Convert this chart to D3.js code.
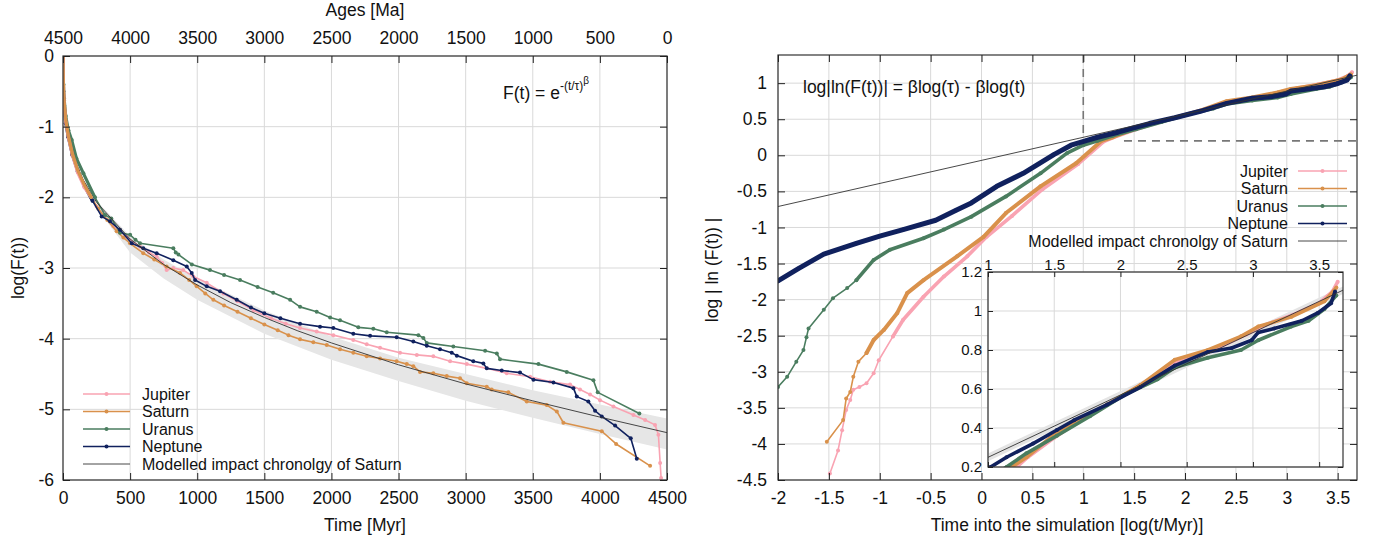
<!DOCTYPE html>
<html lang="en">
<head>
<meta charset="UTF-8">
<title>Impact chronology of the giant planets</title>
<script src="https://cdn.jsdelivr.net/npm/d3@7"></script>
<style>
  body { margin: 0; background: #fff; }
  svg text { font-family: 'Liberation Sans', Arial, sans-serif; fill: #111; }
</style>
</head>
<body>
<div id="grafica"></div>
<script>
// ---------- left panel : log F(t) against time [Myr] ----------
const timeTicks = [0, 500, 1000, 1500, 2000, 2500, 3000, 3500, 4000, 4500]
const ageTicks  = [4500, 4000, 3500, 3000, 2500, 2000, 1500, 1000, 500, 0]
const logFTicks = [0, -1, -2, -3, -4, -5, -6]

const jupiterL = [[0,0],[3,-0.45],[8,-0.66],[20,-0.92],[40,-1.15],[70,-1.4],[110,-1.65],[160,-1.86],[210,-2.0],[251,-2.13],[310,-2.27],[375,-2.41],[474,-2.56],[574,-2.7],[640,-2.78],[698,-2.84],[740,-2.93],[772,-3.03],[822,-3.0],[896,-3.03],[971,-3.12],[1071,-3.21],[1195,-3.36],[1300,-3.47],[1420,-3.6],[1550,-3.71],[1660,-3.79],[1766,-3.85],[1890,-3.9],[2014,-3.95],[2163,-4.02],[2263,-4.08],[2362,-4.13],[2511,-4.2],[2636,-4.23],[2759,-4.25],[2884,-4.32],[3008,-4.36],[3157,-4.42],[3306,-4.49],[3480,-4.54],[3629,-4.61],[3778,-4.65],[3852,-4.72],[3927,-4.79],[4001,-4.87],[4101,-4.96],[4250,-5.08],[4337,-5.15],[4411,-5.22],[4436,-5.36],[4449,-5.76],[4456,-5.97]]
const saturnL = [[0,0],[3,-0.42],[8,-0.63],[20,-0.9],[40,-1.13],[70,-1.38],[110,-1.62],[160,-1.83],[210,-2.0],[263,-2.16],[330,-2.32],[400,-2.48],[450,-2.57],[499,-2.65],[598,-2.79],[680,-2.88],[772,-2.98],[872,-3.07],[940,-3.17],[996,-3.26],[1060,-3.36],[1120,-3.45],[1200,-3.53],[1300,-3.62],[1400,-3.71],[1500,-3.8],[1600,-3.88],[1680,-3.95],[1766,-4.01],[1865,-4.05],[1965,-4.09],[2064,-4.15],[2163,-4.2],[2263,-4.25],[2362,-4.28],[2486,-4.32],[2561,-4.36],[2610,-4.39],[2660,-4.47],[2759,-4.49],[2859,-4.53],[2958,-4.56],[3008,-4.63],[3157,-4.68],[3194,-4.72],[3318,-4.76],[3455,-4.89],[3604,-4.94],[3679,-5.03],[3728,-5.19],[4014,-5.31],[4121,-5.49],[4374,-5.8]]
const uranusL = [[0,0],[3,-0.4],[8,-0.6],[20,-0.85],[40,-1.05],[65,-1.19],[100,-1.45],[152,-1.66],[238,-2.0],[313,-2.25],[360,-2.3],[425,-2.5],[500,-2.53],[540,-2.6],[574,-2.65],[822,-2.72],[840,-2.78],[860,-2.81],[960,-2.95],[1095,-3.03],[1200,-3.1],[1319,-3.17],[1450,-3.27],[1566,-3.35],[1692,-3.45],[1766,-3.55],[1890,-3.62],[1990,-3.7],[2064,-3.74],[2200,-3.84],[2312,-3.86],[2412,-3.91],[2648,-3.95],[2685,-3.99],[2710,-4.06],[2908,-4.11],[3145,-4.17],[3232,-4.21],[3256,-4.29],[3542,-4.36],[3753,-4.47],[3952,-4.59],[3984,-4.76],[4294,-5.06]]
const neptuneL = [[0,0],[3,-0.5],[8,-0.7],[20,-0.95],[40,-1.15],[70,-1.4],[110,-1.63],[160,-1.84],[220,-2.05],[288,-2.27],[350,-2.34],[425,-2.46],[512,-2.65],[598,-2.72],[698,-2.79],[822,-2.89],[922,-2.98],[959,-3.07],[984,-3.17],[1071,-3.26],[1170,-3.33],[1294,-3.45],[1400,-3.56],[1500,-3.64],[1620,-3.71],[1766,-3.79],[1915,-3.83],[2014,-3.85],[2163,-3.93],[2288,-3.96],[2486,-3.98],[2610,-4.04],[2710,-4.1],[2809,-4.15],[2896,-4.2],[2934,-4.24],[3057,-4.32],[3132,-4.35],[3157,-4.42],[3269,-4.45],[3405,-4.48],[3505,-4.58],[3654,-4.62],[3803,-4.7],[3828,-4.82],[3914,-4.89],[3964,-5.02],[4014,-5.1],[4113,-5.23],[4230,-5.41],[4275,-5.7]]

// modelled chronology of Saturn and its grey spread
const modelT = [0, 2, 5, 10, 20, 50, 100, 150, 250, 500, 750, 1000, 1250, 1500, 1750, 2000, 2500, 3000, 3500, 4000, 4500]
const modelF = [0, -0.43, -0.58, -0.72, -0.91, -1.22, -1.53, -1.75, -2.07, -2.59, -2.95, -3.24, -3.49, -3.7, -3.89, -4.06, -4.37, -4.64, -4.88, -5.11, -5.33]
const bandT  = [250, 500, 750, 1000, 1500, 2000, 2500, 3000, 3500, 4000, 4500]
const bandHi = [-2.05, -2.55, -2.88, -3.15, -3.6, -3.97, -4.27, -4.5, -4.73, -4.93, -5.13]
const bandLo = [-2.15, -2.78, -3.15, -3.45, -3.93, -4.3, -4.6, -4.88, -5.12, -5.35, -5.57]

// ---------- right panel : log|ln F(t)| against log(t/Myr) ----------
const logTTicks  = [-2, -1.5, -1, -0.5, 0, 0.5, 1, 1.5, 2, 2.5, 3, 3.5]
const logLnTicks = [1, 0.5, 0, -0.5, -1, -1.5, -2, -2.5, -3, -3.5, -4, -4.5]
const insetXTicks = [1, 1.5, 2, 2.5, 3, 3.5]
const insetYTicks = [0.2, 0.4, 0.6, 0.8, 1, 1.2]

const jupiterR = [[-1.49,-4.41],[-1.41,-4.09],[-1.37,-3.81],[-1.33,-3.53],[-1.29,-3.39],[-1.26,-3.25],[-1.2,-3.21],[-1.13,-3.16],[-1.06,-3.02],[-1.01,-2.84],[-0.87,-2.51],[-0.77,-2.28],[-0.57,-1.96],[-0.37,-1.68],[-0.14,-1.4],[0.05,-1.13],[0.3,-0.84],[0.6,-0.47],[0.95,-0.12],[1.2,0.19],[1.3,0.25],[1.5,0.35],[1.7,0.44],[1.95,0.54],[2.2,0.64],[2.45,0.75],[2.7,0.8],[2.95,0.88],[3.1,0.93],[3.3,0.98],[3.5,1.04],[3.6,1.1],[3.64,1.15]]
const saturnR = [[-1.52,-3.97],[-1.36,-3.67],[-1.33,-3.37],[-1.29,-3.28],[-1.26,-3.07],[-1.21,-2.86],[-1.13,-2.74],[-1.06,-2.56],[-0.96,-2.42],[-0.83,-2.19],[-0.73,-1.91],[-0.57,-1.73],[-0.24,-1.4],[0.02,-1.13],[0.24,-0.8],[0.58,-0.43],[0.93,-0.11],[1.18,0.2],[1.29,0.25],[1.47,0.35],[1.65,0.43],[1.9,0.52],[2.15,0.62],[2.41,0.75],[2.66,0.8],[2.91,0.87],[3.04,0.92],[3.29,0.97],[3.54,1.05],[3.63,1.12]]
const uranusR = [[-2.0,-3.21],[-1.91,-3.07],[-1.82,-2.86],[-1.75,-2.7],[-1.72,-2.52],[-1.7,-2.4],[-1.55,-2.14],[-1.46,-1.98],[-1.32,-1.84],[-1.23,-1.73],[-1.06,-1.45],[-0.9,-1.31],[-0.57,-1.15],[-0.37,-1.03],[-0.1,-0.85],[0.24,-0.57],[0.58,-0.25],[0.84,0.03],[1.0,0.14],[1.14,0.2],[1.29,0.27],[1.52,0.36],[1.77,0.46],[2.03,0.57],[2.28,0.65],[2.41,0.71],[2.66,0.76],[2.91,0.8],[3.04,0.85],[3.29,0.92],[3.42,0.95],[3.54,1.01],[3.63,1.08]]
const neptuneR = [[-2.0,-1.74],[-1.8,-1.57],[-1.55,-1.37],[-1.23,-1.22],[-1.0,-1.12],[-0.77,-1.03],[-0.45,-0.9],[-0.25,-0.76],[-0.1,-0.66],[0.15,-0.43],[0.41,-0.25],[0.71,0.01],[0.88,0.14],[1.02,0.2],[1.14,0.25],[1.34,0.32],[1.52,0.39],[1.65,0.44],[1.9,0.52],[2.15,0.61],[2.41,0.72],[2.66,0.79],[2.84,0.81],[2.99,0.85],[3.04,0.89],[3.16,0.91],[3.37,0.95],[3.49,0.99],[3.59,1.04],[3.62,1.1]]

const modelLogT = [-2, 3.69]
const modelLogLn = [-0.71, 1.11]

const planets = ['Jupiter', 'Saturn', 'Uranus', 'Neptune']
const colors  = ['#f9a3b2', '#d9914b', '#4a7d5f', '#10215e']

// ---------- layout ----------
W = 1374
H = 545
FS = 17.5   // axis text
LS = 16     // legend text
svg = d3.select('#grafica').append('svg').attr('width', W).attr('height', H)

L = { x0: 63, x1: 667, y0: 56, y1: 480 }
R = { x0: 778, x1: 1357, y0: 55, y1: 480 }
I = { x0: 988, x1: 1343, y0: 272, y1: 467 }

xL   = d3.scaleLinear().domain([0, 4500]).range([L.x0, L.x1])
xAge = d3.scaleLinear().domain([4500, 0]).range([L.x0, L.x1])
yL   = d3.scaleLinear().domain([-6, 0]).range([L.y1, L.y0])

xR = d3.scaleLinear().domain([-2, 3.69]).range([R.x0, R.x1])
yR = d3.scaleLinear().domain([-4.5, 1.39]).range([R.y1, R.y0])

xI = d3.scaleLinear().domain([1, 3.68]).range([I.x0, I.x1])
yI = d3.scaleLinear().domain([0.2, 1.2]).range([I.y1, I.y0])

defs = svg.append('defs')
function clip(id, b) {
  defs.append('clipPath').attr('id', id).append('rect')
    .attr('x', b.x0).attr('y', b.y0).attr('width', b.x1 - b.x0).attr('height', b.y1 - b.y0)
}
clip('clipL', L); clip('clipR', R); clip('clipI', I)

function grid(g, xs, ys, xt, yt) {
  gg = g.append('g').attr('stroke', '#d9d9d9').attr('stroke-width', 1)
  gg.selectAll('.gx').data(xt).join('line')
    .attr('x1', d => xs(d)).attr('x2', d => xs(d))
    .attr('y1', ys.range()[0]).attr('y2', ys.range()[1])
  gg.selectAll('.gy').data(yt).join('line')
    .attr('y1', d => ys(d)).attr('y2', d => ys(d))
    .attr('x1', xs.range()[0]).attr('x2', xs.range()[1])
}

function axis(g, gen, tr, pad, size, fs, labels) {
  a = g.append('g').attr('transform', tr)
        .call(gen.tickSizeInner(-size).tickSizeOuter(0).tickPadding(pad)
                 .tickFormat(labels ? d => String(d) : ''))
  a.attr('font-size', fs).attr('font-family', "'Liberation Sans', Arial, sans-serif")
  a.select('.domain').remove()
  a.selectAll('line').attr('stroke', '#222')
  a.selectAll('text').attr('fill', '#111')
  return a
}

function frame(g, b) {
  g.append('rect').attr('x', b.x0).attr('y', b.y0)
    .attr('width', b.x1 - b.x0).attr('height', b.y1 - b.y0)
    .attr('fill', 'none').attr('stroke', '#333').attr('stroke-width', 1.2)
}

function series(g, data, xs, ys, color, w, r, thickFrom, tw) {
  line = d3.line().x(d => xs(d[0])).y(d => ys(d[1]))
  g.append('path').attr('d', line(data)).attr('fill', 'none')
    .attr('stroke', color).attr('stroke-width', w).attr('stroke-linejoin', 'round')
  if (thickFrom !== null) {
    g.append('path').attr('d', line(data.filter(thickFrom))).attr('fill', 'none')
      .attr('stroke', color).attr('stroke-width', tw)
      .attr('stroke-linejoin', 'round').attr('stroke-linecap', 'round')
  }
  g.append('g').selectAll('circle').data(data).join('circle')
    .attr('cx', d => xs(d[0])).attr('cy', d => ys(d[1])).attr('r', r).attr('fill', color)
}

function legend(g, rows, x1, x2, tx, anchor) {
  planets.forEach((p, i) => {
    g.append('line').attr('x1', x1).attr('x2', x2).attr('y1', rows[i]).attr('y2', rows[i])
      .attr('stroke', colors[i]).attr('stroke-width', 1.6)
    g.append('circle').attr('cx', (x1 + x2) / 2).attr('cy', rows[i]).attr('r', 2).attr('fill', colors[i])
    g.append('text').attr('x', tx).attr('y', rows[i]).attr('dy', '0.35em')
      .attr('text-anchor', anchor).attr('font-size', LS).text(p)
  })
  g.append('line').attr('x1', x1).attr('x2', x2).attr('y1', rows[4]).attr('y2', rows[4])
    .attr('stroke', '#333').attr('stroke-width', 0.9)
  g.append('text').attr('x', tx).attr('y', rows[4]).attr('dy', '0.35em')
    .attr('text-anchor', anchor).attr('font-size', LS).text('Modelled impact chronolgy of Saturn')
}

// ================= left panel =================
gl = svg.append('g')
grid(gl, xL, yL, timeTicks, logFTicks)

area = d3.area().x((d, i) => xL(bandT[i])).y0((d, i) => yL(bandLo[i])).y1((d, i) => yL(bandHi[i]))
gl.append('path').attr('d', area(bandT)).attr('fill', '#e6e6e6').attr('clip-path', 'url(#clipL)')

linesL = gl.append('g').attr('clip-path', 'url(#clipL)')
seriesL = [jupiterL, saturnL, uranusL, neptuneL]
seriesL.forEach((s, i) => series(linesL, s, xL, yL, colors[i], 1.6, 2, null, 0))

modelLine = d3.line().x((d, i) => xL(modelT[i])).y((d, i) => yL(modelF[i]))
linesL.append('path').attr('d', modelLine(modelT)).attr('fill', 'none')
  .attr('stroke', '#333').attr('stroke-width', 0.9)

// dense early part drawn heavier (Saturn on top)
;[2, 3, 0, 1].forEach(i => {
  ln = d3.line().x(d => xL(d[0])).y(d => yL(d[1]))
  linesL.append('path').attr('d', ln(seriesL[i].filter(d => d[0] <= 250)))
    .attr('fill', 'none').attr('stroke', colors[i]).attr('stroke-width', 3.2)
    .attr('stroke-linecap', 'round')
})

frame(gl, L)
axis(gl, d3.axisBottom(xL).tickValues(timeTicks), `translate(0,${L.y1})`, 12, 7, FS, true)
axis(gl, d3.axisTop(xAge).tickValues(ageTicks), `translate(0,${L.y0})`, 12, 7, FS, true)
axis(gl, d3.axisLeft(yL).tickValues(logFTicks), `translate(${L.x0},0)`, 9, 7, FS, true)
axis(gl, d3.axisRight(yL).tickValues(logFTicks), `translate(${L.x1},0)`, 9, 7, FS, false)

gl.append('text').attr('x', 365).attr('y', 16).attr('text-anchor', 'middle')
  .attr('font-size', FS).text('Ages [Ma]')
gl.append('text').attr('x', 365).attr('y', 531).attr('text-anchor', 'middle')
  .attr('font-size', FS).text('Time [Myr]')
gl.append('text').attr('transform', 'translate(24,268) rotate(-90)').attr('text-anchor', 'middle')
  .attr('font-size', FS).text('log(F(t))')

f = gl.append('text').attr('x', 503).attr('y', 99).attr('font-size', FS)
f.append('tspan').text('F(t) = e')
f.append('tspan').attr('dy', -9).attr('font-size', 12).text('-(t/τ)')
f.append('tspan').attr('dy', -6).attr('font-size', 10).text('β')

legend(gl.append('g'), [394, 411.5, 429, 446.5, 464], 83, 130, 142, 'start')

// ================= right panel =================
gr = svg.append('g')
grid(gr, xR, yR, logTTicks, logLnTicks)

linesR = gr.append('g').attr('clip-path', 'url(#clipR)')
seriesR = [jupiterR, saturnR, uranusR, neptuneR]
thickR = [-1.0, -1.15, -1.3, -2.1]
widthR = [3.6, 4, 3.6, 5]
seriesR.forEach((s, i) => series(linesR, s, xR, yR, colors[i], 1.6, 2, d => d[0] >= thickR[i], widthR[i]))

modelR = d3.line().x((d, i) => xR(modelLogT[i])).y((d, i) => yR(modelLogLn[i]))
linesR.append('path').attr('d', modelR(modelLogT)).attr('fill', 'none')
  .attr('stroke', '#333').attr('stroke-width', 0.9)

// dashed guides at log t = 1 and log|ln F| = 0.2
gr.append('line').attr('x1', xR(1)).attr('x2', xR(1)).attr('y1', R.y0).attr('y2', yR(0.26))
  .attr('stroke', '#777').attr('stroke-width', 1.6).attr('stroke-dasharray', '8,6')
gr.append('line').attr('x1', xR(1.4)).attr('x2', R.x1).attr('y1', yR(0.2)).attr('y2', yR(0.2))
  .attr('stroke', '#777').attr('stroke-width', 1.6).attr('stroke-dasharray', '8,6')

frame(gr, R)
axis(gr, d3.axisBottom(xR).tickValues(logTTicks), `translate(0,${R.y1})`, 12, 7, FS, true)
axis(gr, d3.axisTop(xR).tickValues(logTTicks), `translate(0,${R.y0})`, 12, 7, FS, false)
axis(gr, d3.axisLeft(yR).tickValues(logLnTicks), `translate(${R.x0},0)`, 11, 7, FS, true)
axis(gr, d3.axisRight(yR).tickValues(logLnTicks), `translate(${R.x1},0)`, 11, 7, FS, false)

gr.append('text').attr('x', 1067).attr('y', 531).attr('text-anchor', 'middle')
  .attr('font-size', FS).text('Time into the simulation [log(t/Myr)]')
gr.append('text').attr('transform', 'translate(718,270) rotate(-90)').attr('text-anchor', 'middle')
  .attr('font-size', FS).text('log | ln (F(t)) |')
gr.append('text').attr('x', 803).attr('y', 87).attr('dy', '0.35em')
  .attr('font-size', FS).text('log|ln(F(t))| = βlog(τ) - βlog(t)')

legend(gr.append('g'), [171, 188.5, 206, 223.5, 241], 1298, 1347, 1288, 'end')

// ---------- inset ----------
gi = svg.append('g')
gi.append('rect').attr('x', I.x0).attr('y', I.y0).attr('width', I.x1 - I.x0).attr('height', I.y1 - I.y0)
  .attr('fill', '#fff')
grid(gi, xI, yI, insetXTicks, insetYTicks)

linesI = gi.append('g').attr('clip-path', 'url(#clipI)')
modelI = d3.line().x((d, i) => xI(modelLogT[i])).y((d, i) => yI(modelLogLn[i]))
linesI.append('path').attr('d', modelI(modelLogT)).attr('fill', 'none')
  .attr('stroke', '#e4e4e4').attr('stroke-width', 7)
seriesR.forEach((s, i) => series(linesI, s.filter(d => d[0] >= 0.8), xI, yI, colors[i], 3.6, 2, null, 0))
linesI.append('path').attr('d', modelI(modelLogT)).attr('fill', 'none')
  .attr('stroke', '#333').attr('stroke-width', 0.9)

frame(gi, I)
axis(gi, d3.axisTop(xI).tickValues(insetXTicks), `translate(0,${I.y0})`, 2, 5, 15, true)
axis(gi, d3.axisLeft(yI).tickValues(insetYTicks), `translate(${I.x0},0)`, 6, 5, 15, true)
axis(gi, d3.axisBottom(xI).tickValues(insetXTicks), `translate(0,${I.y1})`, 2, 5, 15, false)
axis(gi, d3.axisRight(yI).tickValues(insetYTicks), `translate(${I.x1},0)`, 2, 5, 15, false)
</script>
</body>
</html>
